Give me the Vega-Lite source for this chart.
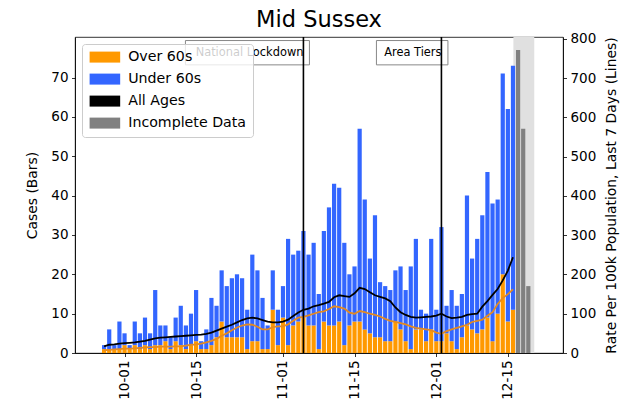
{
"$schema": "https://vega.github.io/schema/vega-lite/v6.json",
"autosize": {"type": "none"},
"padding": {"left": 75, "top": 37, "right": 73, "bottom": 55},
"width": 488,
"height": 316,
"title": {"text": "Mid Sussex", "fontSize": 22.5, "fontWeight": "normal", "font": "DejaVu Sans", "color": "black", "offset": 0, "anchor": "middle"},
"config": {
  "font": "DejaVu Sans",
  "view": {"stroke": "black", "strokeWidth": 0.8},
  "axis": {"labelFontSize": 13.5, "titleFontSize": 13.9, "titleFontWeight": "normal", "labelColor": "black", "titleColor": "black", "domainColor": "black", "tickColor": "black", "grid": false, "tickSize": 3.5, "labelPadding": 3.5, "domainWidth": 0.8, "tickWidth": 0.8, "labelFont": "DejaVu Sans", "titleFont": "DejaVu Sans"},
  "axisRight": {"tickCount": 9, "values": [0,100,200,300,400,500,600,700,800], "labelOverlap": false, "titleAngle": 270, "titleBaseline": "top", "titlePadding": 9},
  "legend": {"labelFont": "DejaVu Sans"}
},
"datasets": {
"cases": [
{"date":"2020-09-27","group":"Over 60s","cases":1},{"date":"2020-09-27","group":"Under 60s","cases":1},
{"date":"2020-09-28","group":"Over 60s","cases":1},{"date":"2020-09-28","group":"Under 60s","cases":5},
{"date":"2020-09-29","group":"Over 60s","cases":1},{"date":"2020-09-29","group":"Under 60s","cases":1},
{"date":"2020-09-30","group":"Over 60s","cases":1},{"date":"2020-09-30","group":"Under 60s","cases":7},
{"date":"2020-10-01","group":"Over 60s","cases":2},{"date":"2020-10-01","group":"Under 60s","cases":3},
{"date":"2020-10-02","group":"Over 60s","cases":1},{"date":"2020-10-02","group":"Under 60s","cases":1},
{"date":"2020-10-03","group":"Over 60s","cases":2},{"date":"2020-10-03","group":"Under 60s","cases":6},
{"date":"2020-10-04","group":"Over 60s","cases":1},{"date":"2020-10-04","group":"Under 60s","cases":4},
{"date":"2020-10-05","group":"Over 60s","cases":2},{"date":"2020-10-05","group":"Under 60s","cases":7},
{"date":"2020-10-06","group":"Over 60s","cases":1},{"date":"2020-10-06","group":"Under 60s","cases":4},
{"date":"2020-10-07","group":"Over 60s","cases":2},{"date":"2020-10-07","group":"Under 60s","cases":14},
{"date":"2020-10-08","group":"Over 60s","cases":2},{"date":"2020-10-08","group":"Under 60s","cases":5},
{"date":"2020-10-09","group":"Over 60s","cases":3},{"date":"2020-10-09","group":"Under 60s","cases":4},
{"date":"2020-10-10","group":"Over 60s","cases":1},{"date":"2020-10-10","group":"Under 60s","cases":3},
{"date":"2020-10-11","group":"Over 60s","cases":3},{"date":"2020-10-11","group":"Under 60s","cases":6},
{"date":"2020-10-12","group":"Over 60s","cases":2},{"date":"2020-10-12","group":"Under 60s","cases":10},
{"date":"2020-10-13","group":"Over 60s","cases":1},{"date":"2020-10-13","group":"Under 60s","cases":6},
{"date":"2020-10-14","group":"Over 60s","cases":2},{"date":"2020-10-14","group":"Under 60s","cases":8},
{"date":"2020-10-15","group":"Over 60s","cases":3},{"date":"2020-10-15","group":"Under 60s","cases":13},
{"date":"2020-10-16","group":"Over 60s","cases":1},{"date":"2020-10-16","group":"Under 60s","cases":2},
{"date":"2020-10-17","group":"Over 60s","cases":1},{"date":"2020-10-17","group":"Under 60s","cases":5},
{"date":"2020-10-18","group":"Over 60s","cases":2},{"date":"2020-10-18","group":"Under 60s","cases":12},
{"date":"2020-10-19","group":"Over 60s","cases":4},{"date":"2020-10-19","group":"Under 60s","cases":8},
{"date":"2020-10-20","group":"Over 60s","cases":8},{"date":"2020-10-20","group":"Under 60s","cases":13},
{"date":"2020-10-21","group":"Over 60s","cases":4},{"date":"2020-10-21","group":"Under 60s","cases":13},
{"date":"2020-10-22","group":"Over 60s","cases":4},{"date":"2020-10-22","group":"Under 60s","cases":15},
{"date":"2020-10-23","group":"Over 60s","cases":4},{"date":"2020-10-23","group":"Under 60s","cases":16},
{"date":"2020-10-24","group":"Over 60s","cases":4},{"date":"2020-10-24","group":"Under 60s","cases":15},
{"date":"2020-10-25","group":"Over 60s","cases":1},{"date":"2020-10-25","group":"Under 60s","cases":10},
{"date":"2020-10-26","group":"Over 60s","cases":3},{"date":"2020-10-26","group":"Under 60s","cases":22},
{"date":"2020-10-27","group":"Over 60s","cases":3},{"date":"2020-10-27","group":"Under 60s","cases":18},
{"date":"2020-10-28","group":"Over 60s","cases":1},{"date":"2020-10-28","group":"Under 60s","cases":13},
{"date":"2020-10-29","group":"Over 60s","cases":1},{"date":"2020-10-29","group":"Under 60s","cases":6},
{"date":"2020-10-30","group":"Over 60s","cases":11},{"date":"2020-10-30","group":"Under 60s","cases":10},
{"date":"2020-10-31","group":"Over 60s","cases":2},{"date":"2020-10-31","group":"Under 60s","cases":9},
{"date":"2020-11-01","group":"Over 60s","cases":9},{"date":"2020-11-01","group":"Under 60s","cases":8},
{"date":"2020-11-02","group":"Over 60s","cases":2},{"date":"2020-11-02","group":"Under 60s","cases":27},
{"date":"2020-11-03","group":"Over 60s","cases":7},{"date":"2020-11-03","group":"Under 60s","cases":18},
{"date":"2020-11-04","group":"Over 60s","cases":8},{"date":"2020-11-04","group":"Under 60s","cases":18},
{"date":"2020-11-05","group":"Over 60s","cases":9},{"date":"2020-11-05","group":"Under 60s","cases":22},
{"date":"2020-11-06","group":"Over 60s","cases":7},{"date":"2020-11-06","group":"Under 60s","cases":18},
{"date":"2020-11-07","group":"Over 60s","cases":7},{"date":"2020-11-07","group":"Under 60s","cases":21},
{"date":"2020-11-08","group":"Over 60s","cases":1},{"date":"2020-11-08","group":"Under 60s","cases":14},
{"date":"2020-11-09","group":"Over 60s","cases":8},{"date":"2020-11-09","group":"Under 60s","cases":23},
{"date":"2020-11-10","group":"Over 60s","cases":7},{"date":"2020-11-10","group":"Under 60s","cases":30},
{"date":"2020-11-11","group":"Over 60s","cases":7},{"date":"2020-11-11","group":"Under 60s","cases":36},
{"date":"2020-11-12","group":"Over 60s","cases":8},{"date":"2020-11-12","group":"Under 60s","cases":34},
{"date":"2020-11-13","group":"Over 60s","cases":2},{"date":"2020-11-13","group":"Under 60s","cases":26},
{"date":"2020-11-14","group":"Over 60s","cases":7},{"date":"2020-11-14","group":"Under 60s","cases":13},
{"date":"2020-11-15","group":"Over 60s","cases":8},{"date":"2020-11-15","group":"Under 60s","cases":14},
{"date":"2020-11-16","group":"Over 60s","cases":8},{"date":"2020-11-16","group":"Under 60s","cases":49},
{"date":"2020-11-17","group":"Over 60s","cases":6},{"date":"2020-11-17","group":"Under 60s","cases":33},
{"date":"2020-11-18","group":"Over 60s","cases":5},{"date":"2020-11-18","group":"Under 60s","cases":19},
{"date":"2020-11-19","group":"Over 60s","cases":4},{"date":"2020-11-19","group":"Under 60s","cases":31},
{"date":"2020-11-20","group":"Over 60s","cases":4},{"date":"2020-11-20","group":"Under 60s","cases":14},
{"date":"2020-11-21","group":"Over 60s","cases":3},{"date":"2020-11-21","group":"Under 60s","cases":14},
{"date":"2020-11-22","group":"Over 60s","cases":3},{"date":"2020-11-22","group":"Under 60s","cases":13},
{"date":"2020-11-23","group":"Over 60s","cases":8},{"date":"2020-11-23","group":"Under 60s","cases":13},
{"date":"2020-11-24","group":"Over 60s","cases":6},{"date":"2020-11-24","group":"Under 60s","cases":16},
{"date":"2020-11-25","group":"Over 60s","cases":3},{"date":"2020-11-25","group":"Under 60s","cases":13},
{"date":"2020-11-26","group":"Over 60s","cases":1},{"date":"2020-11-26","group":"Under 60s","cases":21},
{"date":"2020-11-27","group":"Over 60s","cases":6},{"date":"2020-11-27","group":"Under 60s","cases":23},
{"date":"2020-11-28","group":"Over 60s","cases":6},{"date":"2020-11-28","group":"Under 60s","cases":5},
{"date":"2020-11-29","group":"Over 60s","cases":3},{"date":"2020-11-29","group":"Under 60s","cases":7},
{"date":"2020-11-30","group":"Over 60s","cases":6},{"date":"2020-11-30","group":"Under 60s","cases":23},
{"date":"2020-12-01","group":"Over 60s","cases":3},{"date":"2020-12-01","group":"Under 60s","cases":8},
{"date":"2020-12-02","group":"Over 60s","cases":3},{"date":"2020-12-02","group":"Under 60s","cases":29},
{"date":"2020-12-03","group":"Over 60s","cases":5},{"date":"2020-12-03","group":"Under 60s","cases":7},
{"date":"2020-12-04","group":"Over 60s","cases":3},{"date":"2020-12-04","group":"Under 60s","cases":13},
{"date":"2020-12-05","group":"Over 60s","cases":1},{"date":"2020-12-05","group":"Under 60s","cases":11},
{"date":"2020-12-06","group":"Over 60s","cases":4},{"date":"2020-12-06","group":"Under 60s","cases":11},
{"date":"2020-12-07","group":"Over 60s","cases":7},{"date":"2020-12-07","group":"Under 60s","cases":33},
{"date":"2020-12-08","group":"Over 60s","cases":6},{"date":"2020-12-08","group":"Under 60s","cases":18},
{"date":"2020-12-09","group":"Over 60s","cases":5},{"date":"2020-12-09","group":"Under 60s","cases":24},
{"date":"2020-12-10","group":"Over 60s","cases":6},{"date":"2020-12-10","group":"Under 60s","cases":29},
{"date":"2020-12-11","group":"Over 60s","cases":9},{"date":"2020-12-11","group":"Under 60s","cases":37},
{"date":"2020-12-12","group":"Over 60s","cases":3},{"date":"2020-12-12","group":"Under 60s","cases":35},
{"date":"2020-12-13","group":"Over 60s","cases":10},{"date":"2020-12-13","group":"Under 60s","cases":29},
{"date":"2020-12-14","group":"Over 60s","cases":20},{"date":"2020-12-14","group":"Under 60s","cases":51},
{"date":"2020-12-15","group":"Over 60s","cases":8},{"date":"2020-12-15","group":"Under 60s","cases":54},
{"date":"2020-12-16","group":"Over 60s","cases":11},{"date":"2020-12-16","group":"Under 60s","cases":62},
{"date":"2020-12-17","group":"Incomplete Data","cases":77},
{"date":"2020-12-18","group":"Incomplete Data","cases":57},
{"date":"2020-12-19","group":"Incomplete Data","cases":17}
],
"rates": [
{"date":"2020-09-27","series":"All Ages","rate":17},{"date":"2020-09-27","series":"Over 60s","rate":7},
{"date":"2020-09-28","series":"All Ages","rate":21},{"date":"2020-09-28","series":"Over 60s","rate":8},
{"date":"2020-09-29","series":"All Ages","rate":22},{"date":"2020-09-29","series":"Over 60s","rate":9},
{"date":"2020-09-30","series":"All Ages","rate":24},{"date":"2020-09-30","series":"Over 60s","rate":10},
{"date":"2020-10-01","series":"All Ages","rate":25},{"date":"2020-10-01","series":"Over 60s","rate":11},
{"date":"2020-10-02","series":"All Ages","rate":26},{"date":"2020-10-02","series":"Over 60s","rate":11},
{"date":"2020-10-03","series":"All Ages","rate":27},{"date":"2020-10-03","series":"Over 60s","rate":12},
{"date":"2020-10-04","series":"All Ages","rate":29},{"date":"2020-10-04","series":"Over 60s","rate":13},
{"date":"2020-10-05","series":"All Ages","rate":31},{"date":"2020-10-05","series":"Over 60s","rate":14},
{"date":"2020-10-06","series":"All Ages","rate":34},{"date":"2020-10-06","series":"Over 60s","rate":15},
{"date":"2020-10-07","series":"All Ages","rate":37},{"date":"2020-10-07","series":"Over 60s","rate":15},
{"date":"2020-10-08","series":"All Ages","rate":39},{"date":"2020-10-08","series":"Over 60s","rate":16},
{"date":"2020-10-09","series":"All Ages","rate":40},{"date":"2020-10-09","series":"Over 60s","rate":16},
{"date":"2020-10-10","series":"All Ages","rate":41},{"date":"2020-10-10","series":"Over 60s","rate":16},
{"date":"2020-10-11","series":"All Ages","rate":42},{"date":"2020-10-11","series":"Over 60s","rate":17},
{"date":"2020-10-12","series":"All Ages","rate":43},{"date":"2020-10-12","series":"Over 60s","rate":17},
{"date":"2020-10-13","series":"All Ages","rate":44},{"date":"2020-10-13","series":"Over 60s","rate":19},
{"date":"2020-10-14","series":"All Ages","rate":45},{"date":"2020-10-14","series":"Over 60s","rate":21},
{"date":"2020-10-15","series":"All Ages","rate":46},{"date":"2020-10-15","series":"Over 60s","rate":22},
{"date":"2020-10-16","series":"All Ages","rate":47},{"date":"2020-10-16","series":"Over 60s","rate":24},
{"date":"2020-10-17","series":"All Ages","rate":49},{"date":"2020-10-17","series":"Over 60s","rate":27},
{"date":"2020-10-18","series":"All Ages","rate":52},{"date":"2020-10-18","series":"Over 60s","rate":31},
{"date":"2020-10-19","series":"All Ages","rate":57},{"date":"2020-10-19","series":"Over 60s","rate":36},
{"date":"2020-10-20","series":"All Ages","rate":62},{"date":"2020-10-20","series":"Over 60s","rate":44},
{"date":"2020-10-21","series":"All Ages","rate":67},{"date":"2020-10-21","series":"Over 60s","rate":50},
{"date":"2020-10-22","series":"All Ages","rate":72},{"date":"2020-10-22","series":"Over 60s","rate":58},
{"date":"2020-10-23","series":"All Ages","rate":78},{"date":"2020-10-23","series":"Over 60s","rate":65},
{"date":"2020-10-24","series":"All Ages","rate":84},{"date":"2020-10-24","series":"Over 60s","rate":70},
{"date":"2020-10-25","series":"All Ages","rate":88},{"date":"2020-10-25","series":"Over 60s","rate":73},
{"date":"2020-10-26","series":"All Ages","rate":90},{"date":"2020-10-26","series":"Over 60s","rate":72},
{"date":"2020-10-27","series":"All Ages","rate":88},{"date":"2020-10-27","series":"Over 60s","rate":67},
{"date":"2020-10-28","series":"All Ages","rate":84},{"date":"2020-10-28","series":"Over 60s","rate":60},
{"date":"2020-10-29","series":"All Ages","rate":80},{"date":"2020-10-29","series":"Over 60s","rate":60},
{"date":"2020-10-30","series":"All Ages","rate":78},{"date":"2020-10-30","series":"Over 60s","rate":66},
{"date":"2020-10-31","series":"All Ages","rate":78},{"date":"2020-10-31","series":"Over 60s","rate":68},
{"date":"2020-11-01","series":"All Ages","rate":80},{"date":"2020-11-01","series":"Over 60s","rate":68},
{"date":"2020-11-02","series":"All Ages","rate":85},{"date":"2020-11-02","series":"Over 60s","rate":73},
{"date":"2020-11-03","series":"All Ages","rate":94},{"date":"2020-11-03","series":"Over 60s","rate":82},
{"date":"2020-11-04","series":"All Ages","rate":103},{"date":"2020-11-04","series":"Over 60s","rate":90},
{"date":"2020-11-05","series":"All Ages","rate":110},{"date":"2020-11-05","series":"Over 60s","rate":92},
{"date":"2020-11-06","series":"All Ages","rate":113},{"date":"2020-11-06","series":"Over 60s","rate":96},
{"date":"2020-11-07","series":"All Ages","rate":119},{"date":"2020-11-07","series":"Over 60s","rate":100},
{"date":"2020-11-08","series":"All Ages","rate":122},{"date":"2020-11-08","series":"Over 60s","rate":104},
{"date":"2020-11-09","series":"All Ages","rate":126},{"date":"2020-11-09","series":"Over 60s","rate":106},
{"date":"2020-11-10","series":"All Ages","rate":130},{"date":"2020-11-10","series":"Over 60s","rate":112},
{"date":"2020-11-11","series":"All Ages","rate":142},{"date":"2020-11-11","series":"Over 60s","rate":119},
{"date":"2020-11-12","series":"All Ages","rate":147},{"date":"2020-11-12","series":"Over 60s","rate":117},
{"date":"2020-11-13","series":"All Ages","rate":145},{"date":"2020-11-13","series":"Over 60s","rate":113},
{"date":"2020-11-14","series":"All Ages","rate":143},{"date":"2020-11-14","series":"Over 60s","rate":103},
{"date":"2020-11-15","series":"All Ages","rate":152},{"date":"2020-11-15","series":"Over 60s","rate":100},
{"date":"2020-11-16","series":"All Ages","rate":166},{"date":"2020-11-16","series":"Over 60s","rate":107},
{"date":"2020-11-17","series":"All Ages","rate":163},{"date":"2020-11-17","series":"Over 60s","rate":104},
{"date":"2020-11-18","series":"All Ages","rate":155},{"date":"2020-11-18","series":"Over 60s","rate":100},
{"date":"2020-11-19","series":"All Ages","rate":147},{"date":"2020-11-19","series":"Over 60s","rate":97},
{"date":"2020-11-20","series":"All Ages","rate":143},{"date":"2020-11-20","series":"Over 60s","rate":93},
{"date":"2020-11-21","series":"All Ages","rate":139},{"date":"2020-11-21","series":"Over 60s","rate":87},
{"date":"2020-11-22","series":"All Ages","rate":132},{"date":"2020-11-22","series":"Over 60s","rate":82},
{"date":"2020-11-23","series":"All Ages","rate":116},{"date":"2020-11-23","series":"Over 60s","rate":79},
{"date":"2020-11-24","series":"All Ages","rate":104},{"date":"2020-11-24","series":"Over 60s","rate":76},
{"date":"2020-11-25","series":"All Ages","rate":97},{"date":"2020-11-25","series":"Over 60s","rate":73},
{"date":"2020-11-26","series":"All Ages","rate":92},{"date":"2020-11-26","series":"Over 60s","rate":68},
{"date":"2020-11-27","series":"All Ages","rate":90},{"date":"2020-11-27","series":"Over 60s","rate":64},
{"date":"2020-11-28","series":"All Ages","rate":91},{"date":"2020-11-28","series":"Over 60s","rate":62},
{"date":"2020-11-29","series":"All Ages","rate":92},{"date":"2020-11-29","series":"Over 60s","rate":60},
{"date":"2020-11-30","series":"All Ages","rate":93},{"date":"2020-11-30","series":"Over 60s","rate":58},
{"date":"2020-12-01","series":"All Ages","rate":95},{"date":"2020-12-01","series":"Over 60s","rate":52},
{"date":"2020-12-02","series":"All Ages","rate":100},{"date":"2020-12-02","series":"Over 60s","rate":49},
{"date":"2020-12-03","series":"All Ages","rate":93},{"date":"2020-12-03","series":"Over 60s","rate":56},
{"date":"2020-12-04","series":"All Ages","rate":89},{"date":"2020-12-04","series":"Over 60s","rate":60},
{"date":"2020-12-05","series":"All Ages","rate":90},{"date":"2020-12-05","series":"Over 60s","rate":64},
{"date":"2020-12-06","series":"All Ages","rate":92},{"date":"2020-12-06","series":"Over 60s","rate":68},
{"date":"2020-12-07","series":"All Ages","rate":97},{"date":"2020-12-07","series":"Over 60s","rate":72},
{"date":"2020-12-08","series":"All Ages","rate":99},{"date":"2020-12-08","series":"Over 60s","rate":79},
{"date":"2020-12-09","series":"All Ages","rate":100},{"date":"2020-12-09","series":"Over 60s","rate":82},
{"date":"2020-12-10","series":"All Ages","rate":118},{"date":"2020-12-10","series":"Over 60s","rate":85},
{"date":"2020-12-11","series":"All Ages","rate":132},{"date":"2020-12-11","series":"Over 60s","rate":95},
{"date":"2020-12-12","series":"All Ages","rate":148},{"date":"2020-12-12","series":"Over 60s","rate":104},
{"date":"2020-12-13","series":"All Ages","rate":163},{"date":"2020-12-13","series":"Over 60s","rate":125},
{"date":"2020-12-14","series":"All Ages","rate":185},{"date":"2020-12-14","series":"Over 60s","rate":140},
{"date":"2020-12-15","series":"All Ages","rate":210},{"date":"2020-12-15","series":"Over 60s","rate":150},
{"date":"2020-12-16","series":"All Ages","rate":244},{"date":"2020-12-16","series":"Over 60s","rate":162}
],
"events": [
{"date":"2020-11-05","label":"National Lockdown"},
{"date":"2020-12-02","label":"Area Tiers"}
],
"incomplete": [
{"start":"2020-12-16T02:00:00Z","end":"2020-12-20T04:00:00Z"}
]
},
"layer": [
{
 "layer": [
  {
   "data": {"name": "incomplete"},
   "mark": {"type": "rect", "color": "#e0e0e0"},
   "encoding": {
     "x": {"field": "start", "type": "temporal", "title": null, "scale": {"type": "utc", "domain": [{"year":2020,"month":9,"date":22,"hours":6,"minutes":50,"utc":true},{"year":2020,"month":12,"date":24,"hours":19,"minutes":25,"utc":true}]},
       "axis": {"format": "%m-%d", "labelAngle": 270, "labelOverlap": false, "labelFlush": false,
         "values": [{"year":2020,"month":10,"date":1,"utc":true},{"year":2020,"month":10,"date":15,"utc":true},{"year":2020,"month":11,"date":1,"utc":true},{"year":2020,"month":11,"date":15,"utc":true},{"year":2020,"month":12,"date":1,"utc":true},{"year":2020,"month":12,"date":15,"utc":true}]}},
     "x2": {"field": "end"}
   }
  },
  {
   "data": {"name": "cases"},
   "mark": {"type": "bar", "size": 4.2},
   "encoding": {
     "x": {"field": "date", "type": "temporal", "title": null,
       "scale": {"type": "utc", "domain": [{"year":2020,"month":9,"date":22,"hours":6,"minutes":50,"utc":true},{"year":2020,"month":12,"date":24,"hours":19,"minutes":25,"utc":true}]},
       "axis": {"format": "%m-%d", "labelAngle": 270, "labelOverlap": false, "labelFlush": false,
         "values": [{"year":2020,"month":10,"date":1,"utc":true},{"year":2020,"month":10,"date":15,"utc":true},{"year":2020,"month":11,"date":1,"utc":true},{"year":2020,"month":11,"date":15,"utc":true},{"year":2020,"month":12,"date":1,"utc":true},{"year":2020,"month":12,"date":15,"utc":true}]}},
     "y": {"field": "cases", "type": "quantitative", "stack": "zero", "title": "Cases (Bars)",
       "scale": {"domain": [0, 80.3], "nice": false},
       "axis": {"orient": "left", "values": [0,10,20,30,40,50,60,70], "labelOverlap": false, "titlePadding": 11}},
     "color": {"field": "group", "type": "nominal",
       "scale": {"domain": ["Over 60s","Under 60s","All Ages","Incomplete Data"], "range": ["#ff9900","#3366ff","#000000","#808080"]},
       "legend": {"orient": "top-left", "offset": 7, "title": null, "symbolType": "M-1,-1H4.56V1H-1Z", "symbolSize": 121, "symbolStrokeWidth": 0, "symbolOpacity": 1, "labelFontSize": 14.2, "labelColor": "black", "labelOffset": 26, "rowPadding": 7, "padding": 6, "fillColor": "rgba(255,255,255,0.8)", "strokeColor": "#cccccc", "cornerRadius": 3}},
     "order": {"field": "group", "sort": "ascending"}
   }
  }
 ]
},
{
 "layer": [
  {
   "data": {"name": "rates"},
   "mark": {"type": "line", "strokeWidth": 1.8},
   "encoding": {
     "x": {"field": "date", "type": "temporal", "title": null},
     "y": {"field": "rate", "type": "quantitative", "title": "Rate Per 100k Population, Last 7 Days (Lines)",
       "scale": {"domain": [0, 805], "nice": false},
       "axis": {"orient": "right", "values": [0,100,200,300,400,500,600,700,800], "tickCount": 9, "labelOverlap": false, "titleAngle": 270, "titleBaseline": "top", "titlePadding": 9}},
     "color": {"field": "series", "type": "nominal", "scale": {"domain": ["All Ages","Over 60s"], "range": ["#000000","#e38a22"]}, "legend": null},
     "order": {"field": "date"}
   }
  },
  {
   "data": {"name": "events"},
   "transform": [{"filter": "datum.label === 'National Lockdown'"}],
   "mark": {"type": "rect", "fill": "white", "stroke": "#888888", "strokeWidth": 1, "xOffset": -118, "x2Offset": 6},
   "encoding": {
     "x": {"field": "date", "type": "temporal", "title": null},
     "x2": {"field": "date"},
     "y": {"datum": 796, "title": "Rate Per 100k Population, Last 7 Days (Lines)"},
     "y2": {"datum": 734}
   }
  },
  {
   "data": {"name": "events"},
   "transform": [{"filter": "datum.label === 'Area Tiers'"}],
   "mark": {"type": "rect", "fill": "white", "stroke": "#888888", "strokeWidth": 1, "xOffset": -65, "x2Offset": 6.5},
   "encoding": {
     "x": {"field": "date", "type": "temporal", "title": null},
     "x2": {"field": "date"},
     "y": {"datum": 796, "title": "Rate Per 100k Population, Last 7 Days (Lines)"},
     "y2": {"datum": 734}
   }
  },
  {
   "data": {"name": "events"},
   "mark": {"type": "rule", "color": "black", "strokeWidth": 1.6},
   "encoding": {
     "x": {"field": "date", "type": "temporal", "title": null}
   }
  },
  {
   "data": {"name": "events"},
   "mark": {"type": "text", "align": "right", "baseline": "middle", "fontSize": 11.4, "color": "black", "font": "DejaVu Sans"},
   "encoding": {
     "x": {"field": "date", "type": "temporal", "title": null},
     "y": {"datum": 764, "title": "Rate Per 100k Population, Last 7 Days (Lines)"},
     "text": {"field": "label"}
   }
  }
 ]
}
],
"resolve": {"scale": {"y": "independent", "color": "independent"}, "axis": {"y": "independent"}}
}
